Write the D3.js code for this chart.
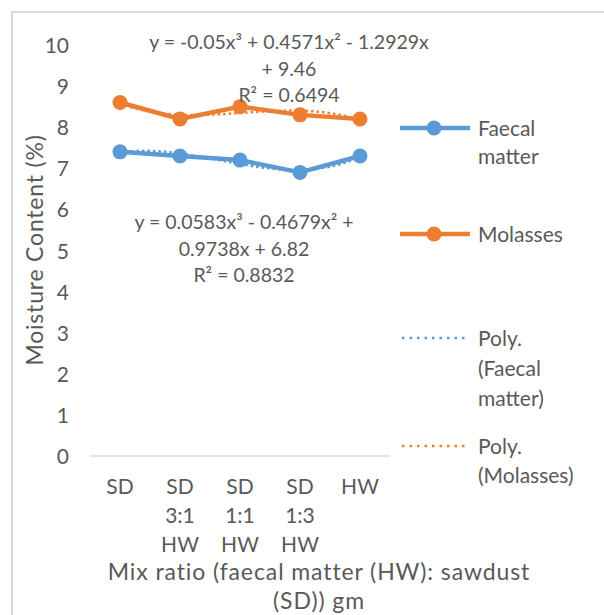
<!DOCTYPE html>
<html><head><meta charset="utf-8">
<script src="https://cdn.jsdelivr.net/npm/d3@7"></script>
<style>body{margin:0;background:#fff}svg text{font-family:Lato,"Open Sans",sans-serif;fill:#595959}</style>
</head><body><svg id="c" width="604" height="615"></svg>
<script>
const categories = [["SD"],["SD","3:1","HW"],["SD","1:1","HW"],["SD","1:3","HW"],["HW"]];
const faecal = [7.4, 7.3, 7.2, 6.9, 7.3];
const molasses = [8.6, 8.2, 8.5, 8.3, 8.2];
// polynomial trendline coefficients [x^3, x^2, x, const] as labelled on the chart
const polyFaecal = [0.0583, -0.4679, 0.9738, 6.82];
const polyMolasses = [-0.05, 0.4571, -1.2929, 9.46];
const yTicks = [0,1,2,3,4,5,6,7,8,9,10];
const eqMolasses = ["y = -0.05x³ + 0.4571x² - 1.2929x", "+ 9.46", "R² = 0.6494"];
const eqFaecal = ["y = 0.0583x³ - 0.4679x² +", "0.9738x + 6.82", "R² = 0.8832"];
const legendItems = [
  {label:["Faecal","matter"], color:"#5B9BD5", type:"line"},
  {label:["Molasses"], color:"#ED7D31", type:"line"},
  {label:["Poly.","(Faecal","matter)"], color:"#5B9BD5", type:"dot"},
  {label:["Poly.","(Molasses)"], color:"#ED7D31", type:"dot"}
];

const svg = d3.select("#c");
const fs = 21;
// chart border
svg.append("rect").attr("x",12).attr("y",12).attr("width",620).attr("height",640)
  .attr("fill","none").attr("stroke","#d9d9d9").attr("stroke-width",2);

const x = d3.scaleBand().domain(d3.range(5)).range([90,390]);
const y = d3.scaleLinear().domain([0,10]).range([456,45]);

// baseline
svg.append("line").attr("x1",90).attr("x2",390).attr("y1",y(0)).attr("y2",y(0))
  .attr("stroke","#d9d9d9").attr("stroke-width",1.5);

// y axis labels
const ya = svg.append("g").attr("transform","translate(69,0)")
  .call(d3.axisLeft(y).tickValues(yTicks).tickSize(0).tickPadding(0));
ya.select(".domain").remove();
ya.selectAll("text").style("font-size",fs+"px").style("font-family","Lato").attr("fill","#595959").attr("dy","0.36em");

// x labels
const xl = svg.append("g");
categories.forEach((c,i)=>{
  const t = xl.append("text").attr("x",x(i)+x.bandwidth()/2).attr("y",494)
    .attr("text-anchor","middle").style("font-size",fs+"px");
  c.forEach((s,j)=>t.append("tspan").attr("x",x(i)+x.bandwidth()/2).attr("dy", j?"29":"0").text(s));
});

// axis titles
svg.append("text").attr("transform","translate(43,250) rotate(-90)").attr("text-anchor","middle")
  .style("font-size","23px").style("letter-spacing","0.8px").text("Moisture Content (%)");
const xt = svg.append("text").attr("x",319).attr("y",580).attr("text-anchor","middle")
  .style("font-size","23px").style("letter-spacing","0.9px");
xt.append("tspan").attr("x",319).text("Mix ratio (faecal matter (HW):  sawdust");
xt.append("tspan").attr("x",319).attr("dy",29).text("(SD)) gm");

const cx = i => x(i)+x.bandwidth()/2;
const line = d3.line().x((d,i)=>cx(i)).y(d=>y(d));
function drawSeries(data,color){
  svg.append("path").datum(data).attr("d",line).attr("fill","none").attr("stroke",color).attr("stroke-width",4.5).attr("stroke-linejoin","round");
  svg.append("g").selectAll("circle").data(data).join("circle").attr("cx",(d,i)=>cx(i)).attr("cy",d=>y(d)).attr("r",7.5).attr("fill",color);
}
drawSeries(faecal,"#5B9BD5");
drawSeries(molasses,"#ED7D31");

// trendlines
const xs = d3.scaleLinear().domain([1,5]).range([cx(0),cx(4)]);
function drawPoly(c,color){
  const pts = d3.range(1,5.001,0.05).map(t=>[xs(t), y(c[0]*t*t*t+c[1]*t*t+c[2]*t+c[3])]);
  svg.append("path").attr("d",d3.line()(pts)).attr("fill","none")
    .attr("stroke",color).attr("stroke-width",2.5).attr("stroke-dasharray","2.5,3");
}
drawPoly(polyFaecal,"#5B9BD5");
drawPoly(polyMolasses,"#ED7D31");

// equation labels
function eq(lines,cxp,y0){
  const t = svg.append("text").attr("text-anchor","middle").attr("y",y0).style("font-size","19.5px");
  lines.forEach((s,j)=>t.append("tspan").attr("x",cxp).attr("dy",j?26.5:0).text(s));
}
eq(eqMolasses,289,49);
eq(eqFaecal,244,229);

// legend
const ly = [128,234,338,446];
const lsp = [28,30,30,29];
legendItems.forEach((d,i)=>{
  const g = svg.append("g");
  if(d.type==="line"){
    g.append("line").attr("x1",400).attr("x2",470).attr("y1",ly[i]).attr("y2",ly[i]).attr("stroke",d.color).attr("stroke-width",4.5);
    g.append("circle").attr("cx",434).attr("cy",ly[i]).attr("r",7.5).attr("fill",d.color);
  } else {
    g.append("line").attr("x1",402).attr("x2",468).attr("y1",ly[i]).attr("y2",ly[i]).attr("stroke",d.color).attr("stroke-width",2.5).attr("stroke-dasharray","2.5,5");
  }
  const t = g.append("text").attr("x",478).attr("y",ly[i]+8).style("font-size",fs+"px");
  d.label.forEach((s,j)=>t.append("tspan").attr("x",478).attr("dy",j?lsp[i]:0).text(s));
});
</script></body></html>
